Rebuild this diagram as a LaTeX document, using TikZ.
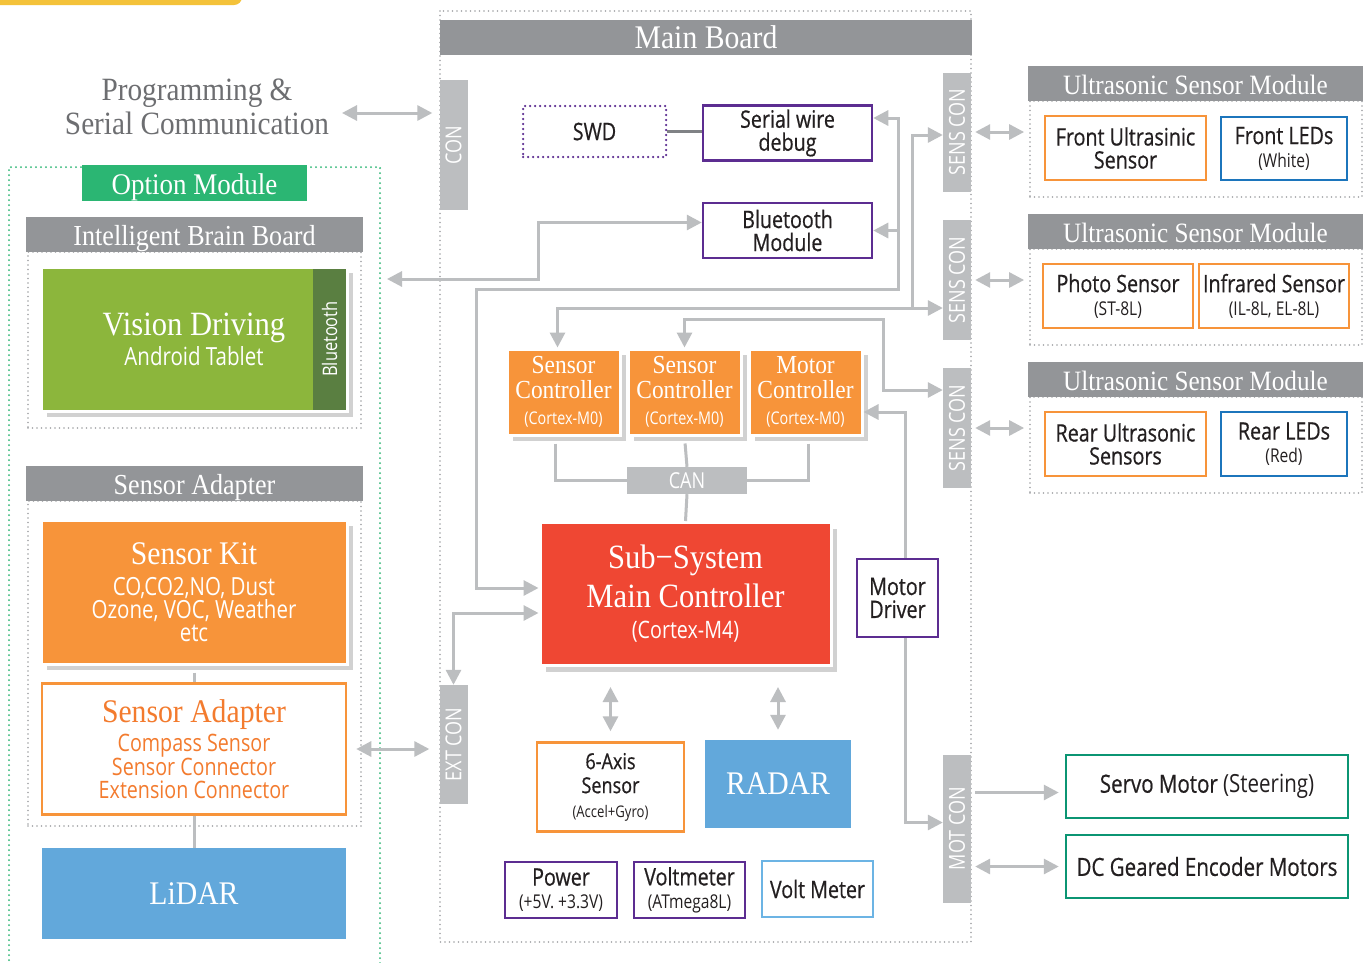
\documentclass[tikz,border=0pt]{standalone}
\usepackage{fontspec}
\usepackage{graphicx}
\setmainfont{Liberation Serif}[FakeStretch=0.9]
\newfontfamily\sansf{Open Sans}[FakeStretch=0.82]
\newfontfamily\sansd{Open Sans}[FakeStretch=0.82, FakeBold=0.6]
\usetikzlibrary{arrows.meta,shadows}
\definecolor{hdrgray}{HTML}{939598}
\definecolor{congray}{HTML}{BCBEC0}
\definecolor{linegray}{HTML}{BCBEC0}
\definecolor{dotgray}{HTML}{A0A2A5}
\definecolor{purp}{HTML}{5C2D91}
\definecolor{ctrlorange}{HTML}{F7943A}
\definecolor{adaptorange}{HTML}{F37B2E}
\definecolor{subred}{HTML}{EF4733}
\definecolor{radarblue}{HTML}{62A8DB}
\definecolor{ledblue}{HTML}{1C75BC}
\definecolor{voltblue}{HTML}{6CB4E4}
\definecolor{motgreen}{HTML}{0B9573}
\definecolor{optgreen}{HTML}{2BB673}
\definecolor{visgreen}{HTML}{8CB63C}
\definecolor{btgreen}{HTML}{5A7F41}
\definecolor{tabyellow}{HTML}{F4C23A}
\definecolor{proggray}{HTML}{6D6E71}
\definecolor{swdline}{HTML}{808285}
\definecolor{txtdark}{HTML}{231F20}
\newcommand{\fsz}[2]{\fontsize{#1}{#2}\selectfont}

\begin{document}
\begin{tikzpicture}[x=1pt, y=-1pt,
	hdr/.style={fill=hdrgray, text=white, inner sep=0pt, minimum height=35pt, text height=22pt, text depth=0pt},
	conbar/.style={fill=congray, text=white, inner sep=0pt, minimum width=28pt, font=\sansf\fsz{22}{22}},
	dotframe/.style={draw=dotgray, line width=1.8pt, dash pattern=on 0pt off 4.5pt, line cap=round, inner sep=0pt},
	box/.style={draw, fill=white, text=txtdark, line width=2.5pt, inner sep=0pt, align=center, font=\sansd\fsz{24}{23}},
	cbox/.style={inner sep=0pt, align=center, text=white},
	shbox/.style={cbox, draw=white, line width=3pt, drop shadow={shadow xshift=6pt, shadow yshift=-6pt, fill=black, opacity=0.18}},
	conn/.style={draw=linegray, line width=3pt, >={Triangle[length=15pt,width=15pt]}},
	bus/.style={draw=linegray, line width=3pt}
]
	\useasboundingbox (0,0) rectangle (1370,962);
	\fill[white] (0,0) rectangle (1370,962);
	\fill[tabyellow, rounded corners=8pt] (-10,-20) rectangle (242,5);

	\node[text=proggray, align=center, inner sep=0pt, font=\fsz{32.5}{34}] (prog) at (197,107) {Programming \&\\Serial Communication};

	\draw[optgreen, line width=2pt, dash pattern=on 0pt off 5pt, line cap=round] (9,975) -- (9,167) -- (380,167) -- (380,975);
	\node[fill=optgreen, text=white, inner sep=0pt, minimum width=225pt, minimum height=36pt, text height=22pt, text depth=0pt, font=\fsz{30}{30}] (optlbl) at (194.5,183) {Option Module};

	\node[dotframe, minimum width=333pt, minimum height=176pt] (ibbfr) at (194.5,340) {};
	\node[hdr, minimum width=337pt, font=\fsz{29}{29}] (ibbhdr) at (194.5,234.5) {Intelligent Brain Board};
	\node[shbox, fill=visgreen, minimum width=306pt, minimum height=144pt, font=\fsz{34}{30}] (vision) at (194,339) {Vision Driving\\\sansf\fsz{25}{30}Android Tablet};
	\node[fill=btgreen, text=white, inner sep=0pt, minimum width=33pt, minimum height=141pt, font=\sansf\fsz{20}{20}] (btstrip) at (329.5,339) {\rotatebox{90}{Bluetooth}};

	\node[dotframe, minimum width=333pt, minimum height=325pt] (safr) at (194.5,663.5) {};
	\node[hdr, minimum width=337pt, font=\fsz{29}{29}] (sahdr) at (194.5,483.5) {Sensor Adapter};
	\node[shbox, fill=ctrlorange, minimum width=306pt, minimum height=144pt, font=\fsz{33}{23}] (kit) at (194,592) {Sensor Kit\\[8pt]\sansf\fsz{25}{23}CO,CO2,NO, Dust\\\sansf\fsz{25}{23}Ozone, VOC, Weather\\\sansf\fsz{25}{23}etc};
	\node[box, draw=ctrlorange, text=adaptorange, minimum width=304pt, minimum height=131pt, font=\fsz{33}{23.5}] (adapt) at (194,749) {Sensor Adapter\\[4pt]\sansf\fsz{24}{23.5}Compass Sensor\\\sansf\fsz{24}{23.5}Sensor Connector\\\sansf\fsz{24}{23.5}Extension Connector};
	\node[cbox, fill=radarblue, minimum width=304pt, minimum height=91pt, font=\fsz{33}{33}] (lidar) at (194,893.5) {LiDAR};

	\draw[dotgray, line width=1.8pt, dash pattern=on 0pt off 4.5pt, line cap=round] (440,11) rectangle (971,942);
	\node[hdr, minimum width=532pt, font=\fsz{33}{33}] (mainhdr) at (706,37.5) {Main Board};
	\node[conbar, minimum height=130pt] (con) at (453.5,145) {\rotatebox{90}{CON}};
	\node[conbar, minimum height=119pt] (extcon) at (453.5,744.5) {\rotatebox{90}{EXT CON}};
	\node[conbar, minimum height=119pt] (sens1) at (957,132) {\rotatebox{90}{SENS CON}};
	\node[conbar, minimum height=120pt] (sens2) at (957,280) {\rotatebox{90}{SENS CON}};
	\node[conbar, minimum height=120pt] (sens3) at (957,428) {\rotatebox{90}{SENS CON}};
	\node[conbar, minimum height=148pt] (motcon) at (957,828.5) {\rotatebox{90}{MOT CON}};

	\node[box, draw=purp, dash pattern=on 0pt off 5pt, line cap=round, minimum width=143pt, minimum height=51pt] (swd) at (594.5,131.5) {SWD};
	\node[box, draw=purp, minimum width=169pt, minimum height=55pt] (swdbg) at (787.5,133) {Serial wire\\debug};
	\node[box, draw=purp, minimum width=169pt, minimum height=55pt] (btm) at (787.5,230.5) {Bluetooth\\Module};

	\node[shbox, fill=ctrlorange, minimum width=113pt, minimum height=86pt, font=\fsz{26}{24.5}] (sc1) at (563.5,392) {Sensor\\Controller\\[2pt]\sansf\fsz{17.5}{24.5}(Cortex-M0)};
	\node[shbox, fill=ctrlorange, minimum width=113pt, minimum height=86pt, font=\fsz{26}{24.5}] (sc2) at (684.5,392) {Sensor\\Controller\\[2pt]\sansf\fsz{17.5}{24.5}(Cortex-M0)};
	\node[shbox, fill=ctrlorange, minimum width=113pt, minimum height=86pt, font=\fsz{26}{24.5}] (mc) at (805.5,392) {Motor\\Controller\\[2pt]\sansf\fsz{17.5}{24.5}(Cortex-M0)};
	\node[fill=congray, text=white, inner sep=0pt, minimum width=120pt, minimum height=27pt, font=\sansf\fsz{22}{22}] (can) at (687,480.5) {CAN};
	\node[shbox, fill=subred, minimum width=291pt, minimum height=143pt, font=\fsz{34}{31.5}] (sub) at (685.5,594) {Sub−System\\[7pt]Main Controller\\\sansf\fsz{24}{31.5}(Cortex-M4)};
	\node[box, draw=purp, minimum width=81pt, minimum height=78pt] (mdrv) at (897.5,598) {Motor\\Driver};

	\node[box, draw=ctrlorange, minimum width=147pt, minimum height=89pt, font=\sansd\fsz{22}{24}] (axis) at (610.5,787) {6-Axis\\\sansd\fsz{22}{24}Sensor\\\sansf\fsz{16}{24}(Accel+Gyro)};
	\node[cbox, fill=radarblue, minimum width=146pt, minimum height=88pt, font=\fsz{33}{33}] (radar) at (778,784) {RADAR};
	\node[box, draw=purp, minimum width=112pt, minimum height=56pt] (pwr) at (561,890) {Power\\\sansf\fsz{19}{22}(+5V. +3.3V)};
	\node[box, draw=purp, minimum width=111pt, minimum height=56pt] (vmeter) at (689.5,890) {Voltmeter\\\sansf\fsz{19}{22}(ATmega8L)};
	\node[box, draw=voltblue, minimum width=111pt, minimum height=56pt] (vmeter2) at (817.5,889) {Volt Meter};

	\node[dotframe, minimum width=332pt, minimum height=96pt] (mod1) at (1196,149) {};
	\node[hdr, minimum width=335pt, font=\fsz{28}{28}] (hdr1) at (1195.5,83.5) {Ultrasonic Sensor Module};
	\node[box, draw=ctrlorange, minimum width=161pt, minimum height=64pt] (fus) at (1125.5,148) {Front Ultrasinic\\Sensor};
	\node[box, draw=ledblue, minimum width=126pt, minimum height=63pt] (fled) at (1284,148.5) {Front LEDs\\\sansf\fsz{19}{22}(White)};

	\node[dotframe, minimum width=332pt, minimum height=96pt] (mod2) at (1196,297) {};
	\node[hdr, minimum width=335pt, font=\fsz{28}{28}] (hdr2) at (1195.5,231.5) {Ultrasonic Sensor Module};
	\node[box, draw=ctrlorange, minimum width=150pt, minimum height=64pt] (photo) at (1118,296) {Photo Sensor\\\sansf\fsz{19}{23}(ST-8L)};
	\node[box, draw=ctrlorange, minimum width=150pt, minimum height=64pt] (ir) at (1274,296) {Infrared Sensor\\\sansf\fsz{19}{23}(IL-8L, EL-8L)};

	\node[dotframe, minimum width=332pt, minimum height=96pt] (mod3) at (1196,445) {};
	\node[hdr, minimum width=335pt, font=\fsz{28}{28}] (hdr3) at (1195.5,379.5) {Ultrasonic Sensor Module};
	\node[box, draw=ctrlorange, minimum width=161pt, minimum height=64pt] (rus) at (1125.5,444) {Rear Ultrasonic\\Sensors};
	\node[box, draw=ledblue, minimum width=126pt, minimum height=64pt] (rled) at (1284,444) {Rear LEDs\\\sansf\fsz{19}{22}(Red)};

	\node[box, draw=motgreen, minimum width=282pt, minimum height=63pt, font=\sansd\fsz{25}{25}] (servo) at (1207,786.5) {Servo Motor \sansf(Steering)};
	\node[box, draw=motgreen, minimum width=282pt, minimum height=63pt, font=\sansd\fsz{25}{25}] (dcm) at (1207,866.5) {DC Geared Encoder Motors};

	\coordinate (progout) at (342,113);
	\draw[conn,<->, shorten >=7pt] (progout) -- (progout -| con.west);
	\coordinate (ibbin) at (387,279);
	\draw[conn,<->] (ibbin) -- (538,279) |- ([yshift=8pt]btm.west);
	\coordinate (jdbg) at (898,289);
	\draw[conn,<->] ([yshift=6pt]sub.west) -- ++(-62,0) |- (jdbg) |- ([yshift=15pt]swdbg.east);
	\draw[conn,->] (btm.east -| jdbg) -- (btm.east);
	\coordinate (jsens) at (912,308);
	\draw[conn,<->] ([xshift=-6pt]sc1.north) |- ([yshift=-28pt]sens2.west);
	\draw[conn,->] (jsens) |- ([yshift=-3pt]sens1.west);
	\coordinate (jmc) at (883,390);
	\draw[conn,<->] (sc2.north) -- ++(0,-28) -| (jmc) -- ([yshift=38pt]sens3.west);
	\draw[conn,->] ([xshift=8pt]mdrv.north) |- ([yshift=-20pt]mc.east);
	\draw[conn,->] ([xshift=8pt]mdrv.south) |- ([yshift=6pt]motcon.west);
	\draw[conn,<->] ([yshift=-19pt]sub.west) -| (extcon.north);
	\draw[conn,<->, shorten <=9pt, shorten >=10pt] (adapt.east) -- (adapt.east -| extcon.west);
	\foreach \s/\m in {sens1/mod1, sens2/mod2, sens3/mod3}
		\draw[conn,<->, shorten <=4pt, shorten >=5pt] (\s.east) -- (\s.east -| \m.west);
	\coordinate (srvin) at ([yshift=-6pt]servo.west);
	\draw[conn,->, shorten <=4pt, shorten >=6pt] (srvin -| motcon.east) -- (srvin);
	\draw[conn,<->, shorten <=4pt, shorten >=6pt] (dcm.west -| motcon.east) -- (dcm.west);
	\draw[conn,<->, shorten <=20pt, shorten >=10pt] (sub.south -| axis.north) -- (axis.north);
	\draw[conn,<->, shorten <=20pt, shorten >=10pt] (sub.south -| radar.north) -- (radar.north);

	\draw[bus, shorten <=7pt] ([xshift=-8pt]sc1.south) |- (can.west);
	\draw[bus, shorten <=7pt] (sc2.south) -- (can.north);
	\draw[bus, shorten <=7pt] ([xshift=3pt]mc.south) |- (can.east);
	\draw[bus] (can.south) -- (sub.north);
	\draw[swdline, line width=3.5pt] (swd.east) -- (swdbg.west |- swd.east);
	\draw[bus, shorten <=7pt] (kit.south) -- (adapt.north);
	\draw[bus] (adapt.south) -- (lidar.north);
\end{tikzpicture}
\end{document}
